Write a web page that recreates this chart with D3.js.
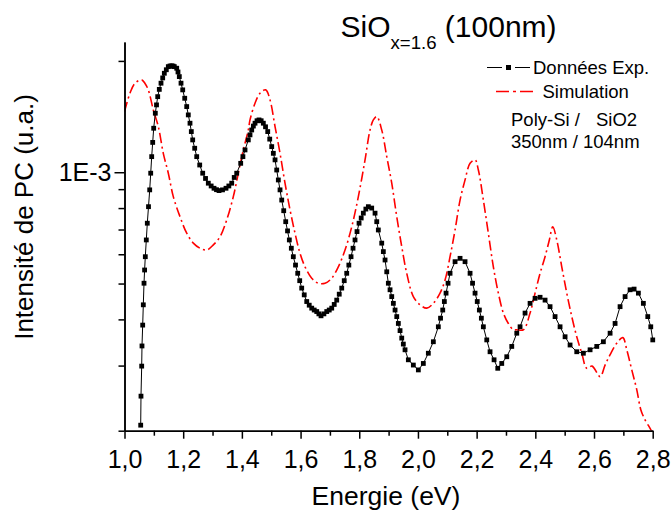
<!DOCTYPE html>
<html>
<head>
<meta charset="utf-8">
<script src="https://cdn.jsdelivr.net/npm/d3@7/dist/d3.min.js"></script>
<style>
  html, body { margin: 0; padding: 0; background: #fff; }
  svg { display: block; font-family: "Liberation Sans", Arial, sans-serif; }
  text { white-space: pre; }
</style>
</head>
<body>
<svg id="chart" width="672" height="511"></svg>
<script>
// ---------- data ----------
const expEnergy = [
  1.0552,1.0562,1.0586,1.0596,1.0620,1.0641,1.0665,1.0685,1.0709,1.0743,
  1.0777,1.0818,1.0859,1.0893,1.0927,1.0961,1.0995,1.1050,1.1091,1.1132,
  1.1186,1.1244,1.1302,1.1357,1.1425,1.1493,1.1551,1.1609,1.1653,1.1697,
  1.1779,1.1823,1.1868,1.1926,1.1984,1.2052,1.2120,1.2174,1.2232,1.2277,
  1.2324,1.2392,1.2461,1.2563,1.2665,1.2761,1.2856,1.2953,1.3050,1.3135,
  1.3221,1.3340,1.3459,1.3556,1.3654,1.3739,1.3824,1.3960,1.4035,1.4107,
  1.4219,1.4277,1.4335,1.4391,1.4448,1.4516,1.4584,1.4657,1.4731,1.4806,
  1.4881,1.4949,1.5017,1.5072,1.5130,1.5187,1.5242,1.5300,1.5358,1.5426,
  1.5494,1.5556,1.5617,1.5685,1.5753,1.5828,1.5903,1.5971,1.6039,1.6125,
  1.6210,1.6295,1.6380,1.6465,1.6551,1.6624,1.6697,1.6795,1.6892,1.6977,
  1.7062,1.7147,1.7232,1.7318,1.7403,1.7488,1.7573,1.7645,1.7720,1.7788,
  1.7856,1.7924,1.7993,1.8066,1.8139,1.8225,1.8310,1.8424,1.8538,1.8596,
  1.8650,1.8766,1.8821,1.8879,1.8937,1.8991,1.9049,1.9107,1.9162,1.9220,
  1.9278,1.9332,1.9390,1.9448,1.9502,1.9560,1.9673,1.9843,2.0014,2.0184,
  2.0354,2.0525,2.0695,2.0770,2.0845,2.0900,2.0958,2.1026,2.1094,2.1265,
  2.1435,2.1605,2.1776,2.1861,2.1946,2.2021,2.2093,2.2161,2.2229,2.2345,
  2.2457,2.2594,2.2720,2.2856,2.3027,2.3197,2.3368,2.3480,2.3650,2.3821,
  2.3991,2.4162,2.4332,2.4502,2.4673,2.4843,2.5014,2.5184,2.5412,2.5637,
  2.5866,2.6094,2.6319,2.6548,2.6718,2.6888,2.7059,2.7229,2.7366,2.7512,
  2.7682,2.7832,2.7934,2.8003
];
const expIntensity = [
  2.07e-4,2.48e-4,2.99e-4,3.39e-4,3.86e-4,4.38e-4,5.01e-4,5.44e-4,5.91e-4,6.56e-4,
  7.28e-4,8.07e-4,8.96e-4,9.94e-4,1.102e-3,1.204e-3,1.315e-3,1.444e-3,1.521e-3,1.601e-3,
  1.675e-3,1.741e-3,1.799e-3,1.852e-3,1.893e-3,1.930e-3,1.938e-3,1.939e-3,1.937e-3,1.930e-3,
  1.911e-3,1.867e-3,1.814e-3,1.741e-3,1.670e-3,1.585e-3,1.505e-3,1.429e-3,1.357e-3,1.288e-3,
  1.223e-3,1.161e-3,1.102e-3,1.046e-3,9.94e-4,9.62e-4,9.34e-4,9.18e-4,9.05e-4,8.97e-4,
  8.92e-4,8.96e-4,9.05e-4,9.18e-4,9.34e-4,9.68e-4,9.94e-4,1.057e-3,1.102e-3,1.149e-3,
  1.223e-3,1.262e-3,1.301e-3,1.333e-3,1.357e-3,1.378e-3,1.385e-3,1.378e-3,1.357e-3,1.327e-3,
  1.288e-3,1.229e-3,1.173e-3,1.125e-3,1.080e-3,1.014e-3,9.53e-4,8.96e-4,8.41e-4,7.87e-4,
  7.35e-4,6.94e-4,6.56e-4,6.23e-4,5.91e-4,5.61e-4,5.33e-4,5.09e-4,4.86e-4,4.66e-4,
  4.47e-4,4.37e-4,4.29e-4,4.24e-4,4.20e-4,4.14e-4,4.09e-4,4.14e-4,4.20e-4,4.24e-4,
  4.29e-4,4.39e-4,4.51e-4,4.68e-4,4.86e-4,5.09e-4,5.33e-4,5.61e-4,5.91e-4,6.23e-4,
  6.56e-4,6.91e-4,7.28e-4,7.52e-4,7.75e-4,7.95e-4,8.07e-4,8.00e-4,7.75e-4,7.35e-4,
  6.98e-4,6.43e-4,6.10e-4,5.79e-4,5.38e-4,5.01e-4,4.81e-4,4.61e-4,4.42e-4,4.24e-4,
  4.07e-4,3.90e-4,3.73e-4,3.56e-4,3.43e-4,3.31e-4,3.11e-4,3.01e-4,2.92e-4,3.04e-4,
  3.24e-4,3.48e-4,3.82e-4,4.03e-4,4.24e-4,4.47e-4,4.71e-4,5.01e-4,5.33e-4,5.73e-4,
  5.85e-4,5.73e-4,5.33e-4,5.01e-4,4.71e-4,4.47e-4,4.24e-4,4.03e-4,3.82e-4,3.52e-4,
  3.27e-4,3.11e-4,2.95e-4,3.04e-4,3.17e-4,3.38e-4,3.67e-4,3.82e-4,4.16e-4,4.42e-4,
  4.56e-4,4.59e-4,4.51e-4,4.33e-4,4.07e-4,3.82e-4,3.59e-4,3.41e-4,3.27e-4,3.24e-4,
  3.31e-4,3.38e-4,3.48e-4,3.67e-4,3.90e-4,4.33e-4,4.61e-4,4.81e-4,4.83e-4,4.71e-4,
  4.42e-4,4.07e-4,3.82e-4,3.52e-4
];
const simEnergy = [
  1.0000,1.0187,1.0358,1.0586,1.0699,1.0811,1.0982,1.1152,1.1322,1.1493,
  1.1663,1.1892,1.2120,1.2345,1.2573,1.2802,1.3027,1.3255,1.3483,1.3708,
  1.3879,1.4049,1.4219,1.4277,1.4448,1.4618,1.4812,1.4959,1.5130,1.5300,
  1.5470,1.5641,1.5811,1.5981,1.6152,1.6380,1.6605,1.6834,1.7062,1.7287,
  1.7515,1.7744,1.7969,1.8197,1.8367,1.8480,1.8596,1.8766,1.8937,1.9107,
  1.9278,1.9448,1.9618,1.9843,2.0072,2.0300,2.0525,2.0753,2.0924,2.1094,
  2.1265,2.1435,2.1605,2.1776,2.1946,2.2059,2.2229,2.2399,2.2570,2.2740,
  2.2911,2.3081,2.3252,2.3368,2.3593,2.3821,2.3991,2.4162,2.4332,2.4478,
  2.4594,2.4731,2.4901,2.5072,2.5242,2.5412,2.5583,2.5753,2.5934,2.6207,
  2.6377,2.6548,2.6776,2.6981,2.7117,2.7287,2.7458,2.7594,2.7740,2.7911,
  2.8003
];
const simIntensity = [
  1.459e-3,1.636e-3,1.741e-3,1.777e-3,1.738e-3,1.670e-3,1.474e-3,1.329e-3,1.125e-3,9.94e-4,
  8.59e-4,7.58e-4,6.84e-4,6.43e-4,6.23e-4,6.16e-4,6.36e-4,6.69e-4,7.43e-4,8.59e-4,
  9.94e-4,1.149e-3,1.301e-3,1.385e-3,1.537e-3,1.636e-3,1.670e-3,1.569e-3,1.329e-3,1.125e-3,
  9.34e-4,7.91e-4,6.84e-4,6.04e-4,5.55e-4,5.17e-4,5.01e-4,5.01e-4,5.17e-4,5.55e-4,
  6.16e-4,7.12e-4,8.59e-4,1.080e-3,1.301e-3,1.385e-3,1.414e-3,1.301e-3,1.102e-3,9.34e-4,
  7.58e-4,6.29e-4,5.33e-4,4.61e-4,4.38e-4,4.29e-4,4.42e-4,4.71e-4,5.11e-4,5.91e-4,
  6.98e-4,8.41e-4,9.53e-4,1.057e-3,1.080e-3,1.014e-3,8.41e-4,6.84e-4,5.55e-4,4.71e-4,
  4.16e-4,3.90e-4,3.75e-4,3.75e-4,3.75e-4,4.16e-4,4.71e-4,5.33e-4,5.91e-4,6.56e-4,
  7.12e-4,6.56e-4,5.55e-4,4.71e-4,4.07e-4,3.59e-4,3.24e-4,2.95e-4,2.99e-4,2.80e-4,
  3.01e-4,3.21e-4,3.45e-4,3.57e-4,3.31e-4,2.92e-4,2.58e-4,2.28e-4,2.14e-4,2.03e-4,
  1.97e-4
];
const xTickValues = [1.0,1.2,1.4,1.6,1.8,2.0,2.2,2.4,2.6,2.8];
const xTickLabels = ["1,0","1,2","1,4","1,6","1,8","2,0","2,2","2,4","2,6","2,8"];
const xMinorTicks = [1.1,1.3,1.5,1.7,1.9,2.1,2.3,2.5,2.7];
const yMajorTicks = [1e-3];
const yTickLabels = ["1E-3"];
const yMinorTicks = [2e-4,3e-4,4e-4,5e-4,6e-4,7e-4,8e-4,9e-4,2e-3];
const seriesNames = ["Données Exp.", "Simulation"];

// ---------- chart ----------
const svg = d3.select("#chart");
const x = d3.scaleLinear().domain([1.0, 2.8]).range([124.5, 652.7]);
const y = d3.scaleLog().domain([2e-4, 2.25e-3]).range([430.7, 42]);

const expData = expEnergy.map((e, i) => ({e, v: expIntensity[i]}));
const simData = simEnergy.map((e, i) => ({e, v: simIntensity[i]}));

svg.append("defs").append("clipPath").attr("id", "plotclip")
  .append("rect").attr("x", 124.5).attr("y", 42).attr("width", 652.7 - 124.5 + 3).attr("height", 430.7 - 42);

const plot = svg.append("g").attr("clip-path", "url(#plotclip)");

// simulation (red dash-dot)
plot.append("path")
  .datum(simData)
  .attr("fill", "none")
  .attr("stroke", "#ff0000")
  .attr("stroke-width", 1.6)
  .attr("stroke-dasharray", "10,3.5,2,3.5")
  .attr("d", d3.line().x(d => x(d.e)).y(d => y(d.v)).curve(d3.curveCatmullRom.alpha(0.5)));

// experimental (line + squares)
plot.append("path")
  .datum(expData)
  .attr("fill", "none")
  .attr("stroke", "#000")
  .attr("stroke-width", 1)
  .attr("d", d3.line().x(d => x(d.e)).y(d => y(d.v)));

const ms = 4.8;
plot.append("g").selectAll("rect")
  .data(expData)
  .join("rect")
  .attr("x", d => x(d.e) - ms / 2)
  .attr("y", d => y(d.v) - ms / 2)
  .attr("width", ms).attr("height", ms)
  .attr("fill", "#000");

// ---------- axes ----------
const fmtX = d => xTickLabels[xTickValues.indexOf(d)];
const xAxisMajor = d3.axisBottom(x).tickValues(xTickValues).tickSize(8).tickSizeOuter(0).tickPadding(4).tickFormat(fmtX);
const xAxisMinor = d3.axisBottom(x).tickValues(xMinorTicks).tickSize(5).tickSizeOuter(0).tickFormat("");

const gxMinor = svg.append("g").attr("transform", "translate(0,430.7)").call(xAxisMinor);
const gx = svg.append("g").attr("transform", "translate(0,430.7)").call(xAxisMajor);
[gx, gxMinor].forEach(g => {
  g.select(".domain").attr("stroke", "#000").attr("stroke-width", 1.5);
  g.selectAll(".tick line").attr("stroke", "#000").attr("stroke-width", 1.5);
});
gx.selectAll(".tick text")
  .attr("font-size", 25).attr("font-family", "Liberation Sans, Arial, sans-serif")
  .attr("fill", "#000").attr("dy", null).attr("y", 37);

const fmtY = d => { const i = yMajorTicks.indexOf(d); return i >= 0 ? yTickLabels[i] : ""; };
const yAxisMajor = d3.axisLeft(y).tickValues(yMajorTicks).tickSize(10).tickSizeOuter(0).tickPadding(3).tickFormat(fmtY);
const yAxisMinor = d3.axisLeft(y).tickValues(yMinorTicks).tickSize(6).tickSizeOuter(0).tickFormat("");
const gyMinor = svg.append("g").attr("transform", "translate(124.5,0)").call(yAxisMinor);
const gy = svg.append("g").attr("transform", "translate(124.5,0)").call(yAxisMajor);
[gy, gyMinor].forEach(g => {
  g.select(".domain").attr("stroke", "#000").attr("stroke-width", 1.5);
  g.selectAll(".tick line").attr("stroke", "#000").attr("stroke-width", 1.5);
});
gy.selectAll(".tick text")
  .attr("font-size", 25).attr("font-family", "Liberation Sans, Arial, sans-serif")
  .attr("fill", "#000").attr("dy", "0.34em");

// axis titles
svg.append("text")
  .attr("x", 386).attr("y", 504.5)
  .attr("text-anchor", "middle")
  .attr("font-size", 26.5)
  .text("Energie (eV)");

svg.append("text")
  .attr("transform", "translate(33,217) rotate(-90)")
  .attr("text-anchor", "middle")
  .attr("font-size", 26)
  .text("Intensité de PC (u.a.)");

// title
const title = svg.append("text").attr("x", 340.5).attr("y", 37).attr("font-size", 30);
title.append("tspan").text("SiO");
title.append("tspan").attr("font-size", 18.6).attr("dy", 12).text("x=1.6");
title.append("tspan").attr("dy", -12).text(" (100nm)");

// legend
const leg = svg.append("g");
leg.append("line").attr("x1", 487).attr("x2", 502).attr("y1", 67.5).attr("y2", 67.5).attr("stroke", "#000").attr("stroke-width", 1);
leg.append("line").attr("x1", 515).attr("x2", 530).attr("y1", 67.5).attr("y2", 67.5).attr("stroke", "#000").attr("stroke-width", 1);
leg.append("rect").attr("x", 508.5 - 2.5).attr("y", 67.5 - 2.5).attr("width", 5).attr("height", 5).attr("fill", "#000");
leg.append("text").attr("x", 533).attr("y", 73.5).attr("font-size", 18.5).text(seriesNames[0]);

leg.append("line").attr("x1", 496).attr("x2", 535).attr("y1", 91.5).attr("y2", 91.5)
  .attr("stroke", "#ff0000").attr("stroke-width", 1.6).attr("stroke-dasharray", "13,4,3,4");
leg.append("text").attr("x", 542.5).attr("y", 97.5).attr("font-size", 18.5).text(seriesNames[1]);

// annotation
svg.append("text").attr("x", 511).attr("y", 126).attr("font-size", 18.5).text("Poly-Si /");
svg.append("text").attr("x", 596).attr("y", 126).attr("font-size", 18.5).text("SiO2");
svg.append("text").attr("x", 511).attr("y", 148).attr("font-size", 18.5).text("350nm / 104nm");
</script>
</body>
</html>
